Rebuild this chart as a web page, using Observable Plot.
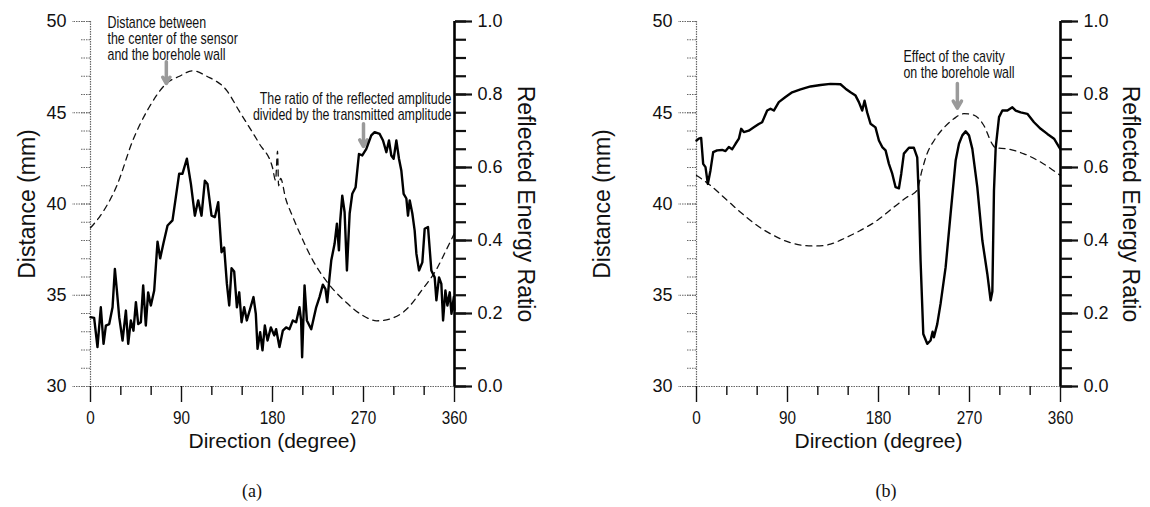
<!DOCTYPE html>
<html><head><meta charset="utf-8">
<script src="https://cdn.jsdelivr.net/npm/d3@7"></script>
<script src="https://cdn.jsdelivr.net/npm/@observablehq/plot@0.6"></script>
<style>
body{margin:0;background:#fff;}
#wrap{position:relative;width:1150px;height:507px;overflow:hidden;background:#fff;}
.layer{position:absolute;top:0;width:575px;height:460px;}
.layer svg{max-width:none !important;}
.cap{position:absolute;top:481px;font-family:"Liberation Serif","Times New Roman",serif;font-size:18px;transform:translateX(-50%);color:#111;}
</style></head><body><div id="wrap"></div>
<script>
// ---- axis ticks ----
const xMajor = [0, 90, 180, 270, 360];
const xMinor = [30, 60, 120, 150, 210, 240, 300, 330];
const distMajor = [30, 35, 40, 45, 50];
const distMinor = d3.range(30, 51);
const ratioMajor = [0, 0.2, 0.4, 0.6, 0.8, 1.0];
const ratioMinor = d3.range(0, 21).map(i => i / 20);

// ---- panel (a): distance (dashed, left axis, mm) ----
const degDistA = [0, 9, 26, 42, 58, 75, 88, 101, 115, 135, 147, 167, 180, 183, 185, 186, 188, 193, 200, 207, 220, 233, 253, 269, 283, 296, 312, 328, 342, 352, 360];
const distA = [38.7, 39.3, 41.0, 43.5, 45.3, 46.6, 47.0, 47.3, 47.0, 46.2, 45.1, 43.3, 42.0, 41.3, 42.9, 41.0, 41.4, 40.3, 39.3, 38.4, 36.9, 35.8, 34.6, 33.9, 33.6, 33.7, 34.2, 35.3, 36.4, 37.5, 38.4];

// ---- panel (a): reflected energy ratio (solid, right axis) ----
const degRatioA = [0, 3.6, 6.9, 10.2, 12.9, 15.2, 18.5, 21.8, 24.1, 26.1, 28.4, 31.7, 35, 37.3, 39.9, 42.5, 44.9, 47.2, 49.8, 52.1, 54.7, 57, 59.7, 63, 66.3, 68.9, 72.2, 76.2, 81.1, 84.4, 87.7, 91, 95.3, 99.3, 103.2, 106.5, 109.8, 113.1, 115.7, 119.7, 123, 126.3, 129.6, 132.2, 134.9, 137.2, 139.5, 142.1, 144.8, 147.1, 149.4, 152, 154.6, 157.9, 161.2, 163.5, 165.2, 167.8, 170.1, 172.4, 175.1, 178.4, 181.7, 183.6, 186.9, 190.2, 193.5, 196.8, 200.1, 203.4, 206.7, 208.3, 209.3, 211.7, 214, 218.3, 223.2, 226.5, 229.8, 232.4, 234.1, 236.4, 238.1, 241.4, 243.7, 245.7, 247, 249, 251.3, 253.6, 256.3, 258.9, 262.2, 265.5, 268.8, 272.8, 277.7, 281, 286, 289.3, 292.6, 295.2, 297.5, 299.8, 302.5, 305.1, 307.4, 309.7, 312.4, 314, 315.7, 318.3, 320.6, 322.3, 324.9, 328.2, 330.5, 333.8, 337.1, 340.4, 342.1, 344.7, 347, 348.7, 351, 353, 355.3, 357, 359.3, 360];
const ratioA = [0.19, 0.188, 0.108, 0.217, 0.117, 0.167, 0.171, 0.217, 0.322, 0.263, 0.19, 0.126, 0.208, 0.117, 0.181, 0.153, 0.231, 0.171, 0.176, 0.277, 0.167, 0.258, 0.222, 0.263, 0.397, 0.351, 0.393, 0.441, 0.455, 0.519, 0.583, 0.583, 0.624, 0.555, 0.468, 0.51, 0.468, 0.564, 0.555, 0.468, 0.464, 0.505, 0.368, 0.381, 0.281, 0.222, 0.324, 0.315, 0.217, 0.258, 0.176, 0.217, 0.181, 0.213, 0.245, 0.199, 0.103, 0.149, 0.099, 0.167, 0.126, 0.162, 0.14, 0.157, 0.108, 0.153, 0.162, 0.157, 0.181, 0.176, 0.217, 0.181, 0.08, 0.277, 0.181, 0.157, 0.217, 0.245, 0.279, 0.267, 0.231, 0.299, 0.345, 0.391, 0.446, 0.373, 0.455, 0.523, 0.478, 0.318, 0.474, 0.528, 0.546, 0.637, 0.633, 0.651, 0.688, 0.697, 0.692, 0.674, 0.642, 0.674, 0.633, 0.624, 0.674, 0.624, 0.592, 0.528, 0.515, 0.468, 0.51, 0.474, 0.427, 0.364, 0.318, 0.34, 0.432, 0.437, 0.318, 0.299, 0.236, 0.299, 0.281, 0.181, 0.263, 0.222, 0.258, 0.199, 0.245, 0.21];

// ---- panel (b): distance (dashed, left axis, mm) ----
const degDistB = [0, 12, 27, 43.5, 60, 76.5, 93, 106, 119, 132.5, 145.7, 162, 178.7, 195, 208, 218, 223, 228, 235, 245, 254.5, 264.4, 274.3, 284.2, 292.4, 295.7, 307.3, 323.8, 340.3, 356.8, 360];
const distB = [41.56, 41.1, 40.37, 39.55, 38.82, 38.27, 37.88, 37.73, 37.7, 37.8, 38.1, 38.55, 39.1, 39.82, 40.37, 40.74, 41.84, 42.75, 43.48, 44.2, 44.67, 44.95, 44.87, 44.3, 43.3, 43.08, 43.02, 42.75, 42.3, 41.69, 41.56];

// ---- panel (b): reflected energy ratio (solid, right axis) ----
const degRatioB = [0, 2.3, 4.6, 6.6, 8.9, 11.2, 13.8, 16.5, 20.4, 25.4, 28.7, 32, 35.3, 38.6, 41.9, 44.2, 46.8, 51.7, 56.7, 61.6, 64.9, 69.9, 73.2, 76.5, 81.4, 88, 94.6, 102.9, 112.8, 122.7, 132.5, 142.4, 147.4, 152.3, 157.3, 160.6, 163.9, 166.2, 168.8, 172.1, 177, 180.4, 183.7, 187, 190.3, 193.6, 196.9, 200.2, 202.5, 205.1, 210.1, 215, 218.3, 220, 221.6, 224.3, 228.2, 231.5, 233.5, 234.8, 238.1, 241.4, 246.4, 251.3, 256.3, 259.6, 262.9, 266.2, 269.5, 272.8, 277.7, 282.7, 287.6, 290.9, 292.6, 294.2, 295.9, 299.2, 302.5, 307.5, 312.4, 315.7, 320.6, 327.2, 333.8, 340.4, 347, 353.6, 358.6, 360];
const ratioB = [0.674, 0.679, 0.681, 0.61, 0.601, 0.555, 0.592, 0.642, 0.647, 0.648, 0.645, 0.656, 0.65, 0.665, 0.679, 0.706, 0.697, 0.701, 0.71, 0.719, 0.724, 0.756, 0.761, 0.756, 0.779, 0.793, 0.806, 0.814, 0.822, 0.826, 0.829, 0.828, 0.816, 0.806, 0.797, 0.779, 0.756, 0.783, 0.751, 0.72, 0.71, 0.674, 0.656, 0.647, 0.61, 0.583, 0.546, 0.543, 0.583, 0.638, 0.654, 0.654, 0.628, 0.51, 0.345, 0.144, 0.117, 0.126, 0.15, 0.135, 0.171, 0.227, 0.327, 0.473, 0.619, 0.665, 0.688, 0.699, 0.688, 0.651, 0.546, 0.4, 0.309, 0.236, 0.26, 0.537, 0.654, 0.738, 0.756, 0.756, 0.765, 0.756, 0.751, 0.747, 0.724, 0.706, 0.692, 0.679, 0.656, 0.65];

// ---- annotation texts ----
const notesA = ["Distance between\nthe center of the sensor\nand the borehole wall", "The ratio of the reflected amplitude\ndivided by the transmitted amplitude"];
const notesB = ["Effect of the cavity\non the borehole wall"];

const SANS = "'Liberation Sans', Arial, Helvetica, sans-serif";
const W = 575, H = 460, TOP = 21, BOTTOM = 386;

// condense (horizontally) the texts of the given groups, as in the narrow typeface of the original
function condense(svg, selector, k) {
  d3.select(svg).selectAll(selector).each(function () {
    const t = this.getAttribute("transform") || "";
    this.setAttribute("transform", t + ` scale(${k},1)`);
  });
}

function drawPanel(cfg) {
  const common = {
    width: W, height: H, marginLeft: cfg.ml, marginRight: cfg.mr,
    marginTop: TOP, marginBottom: H - BOTTOM,
    x: {domain: [0, 360], axis: null},
    style: {background: "transparent", fontFamily: SANS, color: "#111", overflow: "visible"}
  };
  const distData = cfg.degDist.map((d, i) => ({deg: d, v: cfg.dist[i]}));
  const ratioData = cfg.degRatio.map((d, i) => ({deg: d, v: cfg.ratio[i]}));
  const startNotes = cfg.notes.filter(n => n.anchor === "start");
  const endNotes = cfg.notes.filter(n => n.anchor === "end");

  const base = Plot.plot({
    ...common,
    y: {domain: [30, 50], axis: null},
    marks: [
      Plot.ruleX([0], {stroke: "#666", strokeWidth: 1.2, strokeDasharray: "1.5,1"}),
      Plot.ruleY([30], {stroke: "#666", strokeWidth: 1.2, strokeDasharray: "1.5,1"}),
      Plot.axisY({ticks: distMinor, tickSize: 10, tickFormat: () => "", stroke: "#666", strokeDasharray: "1.5,1", label: null}),
      Plot.axisY({ticks: distMajor, tickSize: 18, tickPadding: 6, stroke: "#666", strokeDasharray: "1.5,1", fontSize: 18, label: null}),
      Plot.axisX({ticks: xMinor, tickSize: 9, tickFormat: () => "", strokeWidth: 1.4, label: null}),
      Plot.axisX({ticks: xMajor, tickSize: 16, tickPadding: 9, strokeWidth: 1.4, fontSize: 18, label: null}),
      Plot.line(distData, {x: "deg", y: "v", stroke: "#111", strokeWidth: 1.3, strokeDasharray: "6,5", curve: "monotone-x"}),
      Plot.text(["Distance (mm)"], {text: d => d, frameAnchor: "left", dx: -(cfg.ml - 27), rotate: -90, textAnchor: "middle", lineAnchor: "middle", fontSize: 23}),
      Plot.text(["Direction (degree)"], {text: d => d, frameAnchor: "bottom", dy: 55, textAnchor: "middle", lineAnchor: "middle", fontSize: 21}),
      Plot.text(startNotes, {x: "x", y: "y", text: "t", textAnchor: "start", lineAnchor: "top", lineHeight: 0.95, fontSize: 17, ariaDescription: "narrow-note"}),
      Plot.text(endNotes, {x: "x", y: "y", text: "t", textAnchor: "end", lineAnchor: "top", lineHeight: 0.95, fontSize: 17, ariaDescription: "narrow-note"}),
      Plot.arrow(cfg.arrows, {x1: "x", y1: "y1", x2: "x", y2: "y2", stroke: "#9a9a9a", strokeWidth: 3.5, headLength: 9})
    ]
  });
  condense(base, 'g[aria-description="narrow-note"] text', 0.73);
  condense(base, 'g[aria-label="x-axis tick label"] text', 0.85);

  const over = Plot.plot({
    ...common,
    y: {domain: [0, 1], axis: null},
    marks: [
      Plot.ruleX([360], {stroke: "#000", strokeWidth: 2.6}),
      Plot.axisY({anchor: "right", ticks: ratioMinor, tickSize: 11, tickFormat: () => "", strokeWidth: 2.2, label: null}),
      Plot.axisY({anchor: "right", ticks: ratioMajor, tickSize: 17, tickPadding: 6, strokeWidth: 2.2, tickFormat: d3.format(".1f"), fontSize: 18, label: null}),
      Plot.line(ratioData, {x: "deg", y: "v", stroke: "#000", strokeWidth: 2.4, strokeLinejoin: "round"}),
      Plot.text(["Reflected Energy Ratio"], {text: d => d, frameAnchor: "right", dx: cfg.rlab, rotate: 90, textAnchor: "middle", lineAnchor: "middle", fontSize: 23})
    ]
  });

  const wrap = document.getElementById("wrap");
  for (const svg of [base, over]) {
    const div = document.createElement("div");
    div.className = "layer";
    div.style.left = cfg.left + "px";
    div.appendChild(svg);
    wrap.appendChild(div);
  }
  const cap = document.createElement("div");
  cap.className = "cap";
  cap.style.left = cfg.capX + "px";
  cap.textContent = cfg.cap;
  wrap.appendChild(cap);
}

drawPanel({
  left: 0, ml: 90, mr: 121, rlab: 71, capX: 252, cap: "(a)",
  degDist: degDistA, dist: distA, degRatio: degRatioA, ratio: ratioA,
  notes: [
    {x: 16.8, y: 50.3, t: notesA[0], anchor: "start"},
    {x: 357, y: 46.1, t: notesA[1], anchor: "end"}
  ],
  arrows: [{x: 75, y1: 47.8, y2: 46.6}, {x: 270, y1: 44.4, y2: 43.15}]
});
drawPanel({
  left: 575, ml: 121, mr: 90, rlab: 70, capX: 886, cap: "(b)",
  degDist: degDistB, dist: distB, degRatio: degRatioB, ratio: ratioB,
  notes: [
    {x: 204.7, y: 48.4, t: notesB[0], anchor: "start"}
  ],
  arrows: [{x: 258, y1: 46.6, y2: 45.25}]
});
</script></body></html>
